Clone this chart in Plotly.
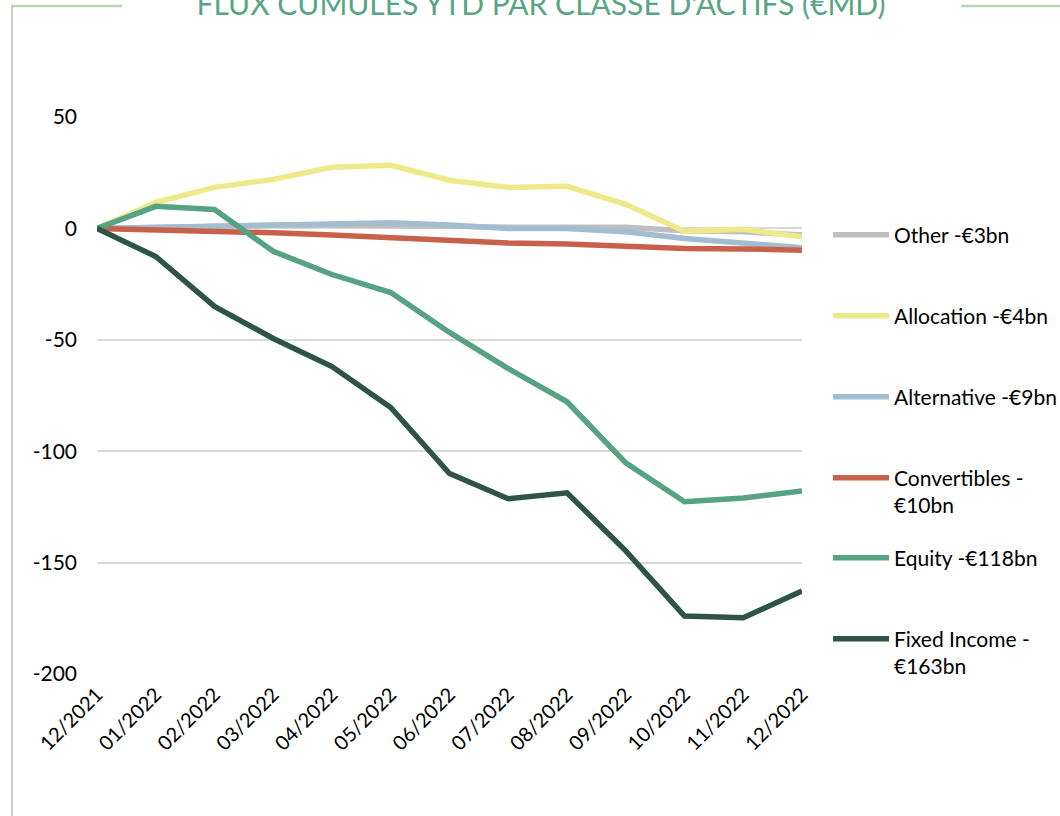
import plotly.graph_objects as go

months = ["12/2021", "01/2022", "02/2022", "03/2022", "04/2022", "05/2022", "06/2022",
          "07/2022", "08/2022", "09/2022", "10/2022", "11/2022", "12/2022"]

other = [0, 0.5, 1.5, 1.5, 1.5, 1.5, 1.0, 0.5, 0.5, 0.5, -1.0, -1.5, -3.0]
allocation = [0, 11.7, 18.4, 22.0, 27.4, 28.3, 21.6, 18.4, 18.9, 10.8, -1.3, -0.4, -3.8]
alternative = [0, 0.5, 1.0, 1.0, 2.0, 2.5, 1.5, 0.0, 0.0, -1.5, -4.5, -6.5, -8.7]
convertibles = [0, -0.5, -1.2, -2.0, -3.0, -4.3, -5.8, -6.6, -7.0, -8.0, -9.0, -9.2, -9.8]
equity = [0, 9.9, 8.5, -10.3, -20.7, -28.8, -46.7, -62.9, -77.8, -105.2, -122.7, -121.0, -117.8]
fixed_income = [0, -12.6, -35.0, -49.4, -62.0, -80.4, -110.0, -121.3, -118.7, -144.7, -174.0, -174.8, -162.7]

names = ["Other -€3bn", "Allocation -€4bn", "Alternative -€9bn",
         "Convertibles -<br>€10bn", "Equity -€118bn", "Fixed Income -<br>€163bn"]
series = [other, allocation, alternative, convertibles, equity, fixed_income]
colors = ["#bfbfbf", "#eee98a", "#a3bdd0", "#c9604a", "#56a384", "#2e5445"]
draw_order = [0, 2, 1, 3, 4, 5]

title_text = "FLUX CUMULES YTD PAR CLASSE D'ACTIFS (€MD)"
y_ticks = [50, 0, -50, -100, -150, -200]
y_tick_text = [str(v) for v in y_ticks]

W, H = 1060, 816
L, R, T, B = 97, 802, 117, 674  # plot area in pixels

def px(x):
    return (x - L) / (R - L)

def py(y):
    return (B - y) / (B - T)

fig = go.Figure()
legend_y_px = [234, 315, 396, 477, 557, 638]
for idx in draw_order:
    fig.add_trace(go.Scatter(
        x=months, y=series[idx], name=names[idx], mode="lines",
        line=dict(color=colors[idx], width=5.5),
        legend="legend" if idx == 0 else f"legend{idx + 1}",
        hoverinfo="skip",
    ))

font = "Lato, 'Open Sans', sans-serif"
legend_kw = {}
for i, ypix in enumerate(legend_y_px):
    key = "legend" if i == 0 else f"legend{i + 1}"
    legend_kw[key] = dict(
        x=px(828), y=py(ypix - 19.5), xanchor="left", yanchor="top",
        bgcolor="rgba(0,0,0,0)", itemwidth=56,
        font=dict(family=font, size=21, color="#000000"),
        valign="top", tracegroupgap=0,
    )

frame_color = "#bad4b8"
shapes = [
    dict(type="line", xref="paper", yref="paper", x0=px(12), x1=px(12), y0=py(6), y1=py(H + 5),
         line=dict(color=frame_color, width=2)),
    dict(type="line", xref="paper", yref="paper", x0=px(11), x1=px(122), y0=py(6), y1=py(6),
         line=dict(color=frame_color, width=2.5)),
    dict(type="line", xref="paper", yref="paper", x0=px(961), x1=px(W + 5), y0=py(6), y1=py(6),
         line=dict(color=frame_color, width=2.5)),
]

fig.update_layout(
    width=W, height=H,
    margin=dict(l=L, r=W - R, t=T, b=H - B, autoexpand=False),
    paper_bgcolor="white", plot_bgcolor="white",
    showlegend=True,
    title=dict(text=title_text, x=541 / W, xanchor="center", xref="container",
               y=1 - 4.5 / H, yref="container", yanchor="middle",
               font=dict(family=font, size=30, color="#57a585")),
    xaxis=dict(type="category", range=[0, len(months) - 1], showgrid=False,
               zeroline=False, showline=False, ticks="", ticklabelstandoff=4,
               tickangle=-45, tickfont=dict(family=font, size=20, color="#000000")),
    xaxis2=dict(overlaying="x", anchor="free", position=py(229), range=[0, len(months) - 1],
                tickmode="linear", tick0=0, dtick=1, showgrid=False, zeroline=False,
                showline=True, linecolor="#d9d9d9", linewidth=1.5,
                ticks="outside", ticklen=5, tickcolor="#d9d9d9", tickwidth=1.5,
                showticklabels=False, side="bottom"),
    yaxis=dict(range=[-200, 50], tickvals=y_ticks, ticktext=y_tick_text, showgrid=True,
               gridcolor="#d9d9d9", gridwidth=1.5, zeroline=False, showline=False, ticks="",
               tickfont=dict(family=font, size=21, color="#000000"), ticklabelstandoff=19),
    shapes=shapes,
    **legend_kw,
)

fig.write_html("out.html", config={"displayModeBar": False},
               post_script="document.body.style.margin='0';")
